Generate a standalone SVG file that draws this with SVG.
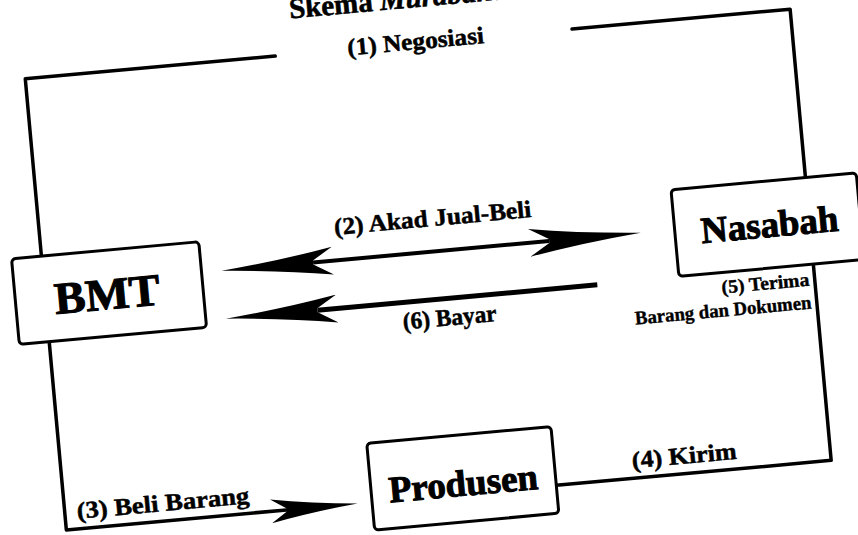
<svg xmlns="http://www.w3.org/2000/svg" width="858" height="535" viewBox="0 0 858 535">
<style>
.box{fill:#fff;stroke:#000;stroke-width:3}
.node{font-family:"Liberation Serif","Times New Roman",serif;font-weight:bold;fill:#000;stroke:#000;stroke-width:1;text-anchor:middle}
.lbl{font-family:"Liberation Serif","Times New Roman",serif;font-weight:bold;font-size:24px;fill:#000;stroke:#000;stroke-width:0.5;text-anchor:middle}
.sm{font-family:"Liberation Serif","Times New Roman",serif;font-weight:bold;font-size:19px;fill:#000;stroke:#000;stroke-width:0.4;text-anchor:end}
.line{fill:none;stroke:#000;stroke-width:3.5;stroke-linejoin:round;stroke-linecap:round}
.shaft{fill:none;stroke:#000}
</style>
<defs>
<marker id="ah" viewBox="0 0 112 28" refX="20" refY="14" markerWidth="112" markerHeight="28" markerUnits="userSpaceOnUse" orient="auto-start-reverse">
<path d="M112,14 Q52,9 0,0 L20,12 L20,16 L0,28 Q52,19 112,14 Z" fill="#000"/>
</marker>
<marker id="ah2" viewBox="0 0 112 28" refX="20" refY="14" markerWidth="87" markerHeight="24" markerUnits="userSpaceOnUse" orient="auto" preserveAspectRatio="none">
<path d="M112,14 Q52,9 0,0 L20,12 L20,16 L0,28 Q52,19 112,14 Z" fill="#000"/>
</marker>
</defs>
<rect width="858" height="535" fill="#fff"/>
<g transform="rotate(-5.2 429 267)">
<g id="title">
<text x="313" y="7" font-family="Liberation Serif, Times New Roman, serif" font-weight="bold" font-size="29" stroke="#000" stroke-width="0.6">Skema <tspan font-style="italic">Murabahah</tspan></text>
</g>
<g id="connectors">
<path class="line" d="M44,221 L44,43 L295,43 M593,43 L812,43 L812,212"/>
<text class="lbl" x="436" y="49" textLength="137" lengthAdjust="spacingAndGlyphs">(1) Negosiasi</text>
<path class="shaft" stroke-width="4" d="M314,252 L551,252" marker-start="url(#ah)" marker-end="url(#ah)"/>
<text class="lbl" x="437" y="226.5" textLength="198" lengthAdjust="spacingAndGlyphs">(2) Akad Jual-Beli</text>
<path class="shaft" stroke-width="5" d="M314,300 L595,300" marker-start="url(#ah)"/>
<text class="lbl" x="445" y="327" textLength="94" lengthAdjust="spacingAndGlyphs">(6) Bayar</text>
<path class="line" d="M44,307 L44,496 L265,496" marker-end="url(#ah2)"/>
<text class="lbl" x="142.5" y="486" textLength="173" lengthAdjust="spacingAndGlyphs">(3) Beli Barang</text>
<path class="line" d="M536,496 L812,496 L812,299"/>
<text class="lbl" x="666" y="486" textLength="105" lengthAdjust="spacingAndGlyphs">(4) Kirim</text>
<text class="sm" x="806.5" y="320" textLength="88" lengthAdjust="spacingAndGlyphs">(5) Terima</text>
<text class="sm" x="806.5" y="343" textLength="177" lengthAdjust="spacingAndGlyphs">Barang dan Dokumen</text>
</g>
<g id="bmt">
<rect class="box" x="14" y="221" width="188" height="86" rx="4"/>
<text class="node" x="106" y="280" font-size="45" textLength="106" lengthAdjust="spacingAndGlyphs">BMT</text>
</g>
<g id="nasabah">
<rect class="box" x="677" y="212" width="186" height="87" rx="4"/>
<text class="node" x="772" y="268" font-size="37">Nasabah</text>
</g>
<g id="produsen">
<rect class="box" x="351" y="437" width="185" height="87" rx="4"/>
<text class="node" x="443.5" y="498" font-size="37">Produsen</text>
</g>
</g>
</svg>
